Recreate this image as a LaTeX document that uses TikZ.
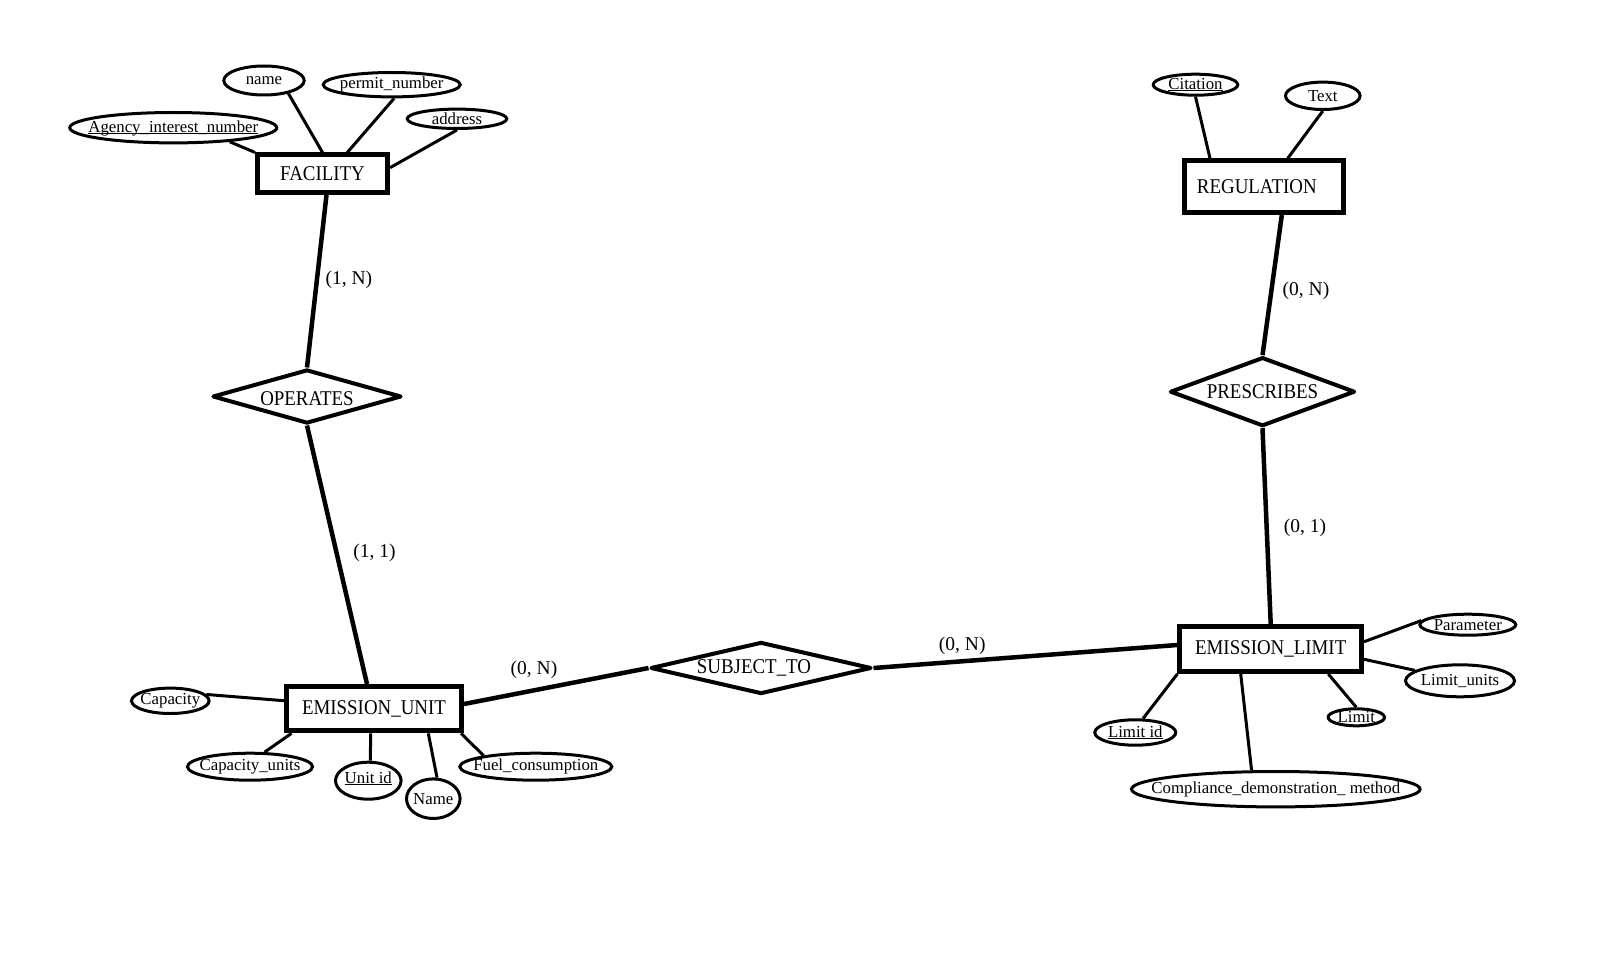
\documentclass[tikz,border=0pt]{standalone}
\usepackage{fontspec}
\setmainfont{Liberation Serif}
\newfontfamily\efontfam[FakeStretch=0.9]{Liberation Serif}
\usetikzlibrary{shapes.geometric}
\newcommand\keyattr[1]{\underline{\smash{#1}\vphantom{A}}}
\begin{document}
\begin{tikzpicture}[x=1pt,y=-1pt,
  entity/.style={draw, rectangle, line width=5pt, inner sep=0pt, font=\efontfam\fontsize{21}{23}\selectfont},
  rel/.style={draw, diamond, line width=4pt, line join=round, inner sep=0pt},
  rfont/.style={font=\efontfam\fontsize{21}{23}\selectfont, inner sep=0pt},
  attr/.style={draw, ellipse, line width=3pt, inner sep=0pt},
  afont/.style={font=\fontsize{16.8}{18}\selectfont, inner sep=0pt},
  conn/.style={line width=4.5pt},
  aline/.style={line width=3pt},
  card/.style={font=\fontsize{19.5}{21}\selectfont, inner sep=0pt}]
\fill[white] (0,0) rectangle (1600,960);
\useasboundingbox (0,0) rectangle (1600,960);

% entities
\node[entity, minimum width=130pt, minimum height=37.5pt] (fac) at (322.5,173.7) {FACILITY};
\node[entity, minimum width=159.3pt, minimum height=51.7pt, label={[rfont,xshift=-7pt]center:REGULATION}] (reg) at (1263.8,186.7) {};
\node[entity, minimum width=175pt, minimum height=44.3pt] (eu) at (374,708.7) {EMISSION\_UNIT};
\node[entity, minimum width=181.7pt, minimum height=45pt] (el) at (1270.7,649) {EMISSION\_LIMIT};

% relationships
\node[rel, minimum width=189pt, minimum height=54pt, label={[rfont,yshift=-2pt]center:OPERATES}] (op) at (307,396.5) {};
\node[rel, minimum width=221pt, minimum height=52pt, label={[rfont,xshift=-7pt]center:SUBJECT\_TO}] (st) at (761,668) {};
\node[rel, minimum width=185pt, minimum height=69pt, label={[rfont]center:PRESCRIBES}] (pr) at (1262.5,391.7) {};

% attributes
\node[attr, minimum width=80.4pt, minimum height=29pt, label={[afont]center:name}] (nm) at (264,80.5) {};
\node[attr, minimum width=137pt, minimum height=24.4pt, label={[afont]center:permit\_number}] (pn) at (391.7,84.7) {};
\node[attr, minimum width=99.6pt, minimum height=19.4pt, label={[afont]center:address}] (ad) at (457,118.8) {};
\node[attr, minimum width=207pt, minimum height=30.4pt, label={[afont]center:\keyattr{Agency\_interest\_number}}] (ain) at (173.3,127.7) {};
\node[attr, minimum width=84.6pt, minimum height=21pt, label={[afont]center:\keyattr{Citation}}] (cit) at (1195.5,84.7) {};
\node[attr, minimum width=74.6pt, minimum height=27.4pt, label={[afont]center:Text}] (txt) at (1322.8,95.8) {};
\node[attr, minimum width=77.6pt, minimum height=25.4pt, label={[afont]center:Capacity}] (cap) at (170.3,700.8) {};
\node[attr, minimum width=125pt, minimum height=27pt, label={[afont]center:Capacity\_units}] (cu) at (250,766.7) {};
\node[attr, minimum width=65.6pt, minimum height=37pt, label={[afont,yshift=2pt]center:\keyattr{Unit id}}] (uid) at (368.3,780.7) {};
\node[attr, minimum width=53.6pt, minimum height=39.6pt, label={[afont]center:Name}] (unm) at (433.3,798.7) {};
\node[attr, minimum width=152pt, minimum height=27pt, label={[afont]center:Fuel\_consumption}] (fc) at (535.8,766.7) {};
\node[attr, minimum width=96pt, minimum height=21pt, label={[afont]center:Parameter}] (par) at (1467.8,624.7) {};
\node[attr, minimum width=109pt, minimum height=32pt, label={[afont]center:Limit\_units}] (lu) at (1460,680.8) {};
\node[attr, minimum width=56.4pt, minimum height=17pt, label={[afont]center:Limit}] (lim) at (1356.3,717.3) {};
\node[attr, minimum width=81pt, minimum height=25.4pt, label={[afont]center:\keyattr{Limit id}}] (lid) at (1135.3,732.5) {};
\node[attr, minimum width=288.6pt, minimum height=35.4pt, label={[afont]center:Compliance\_demonstration\_ method}] (cdm) at (1275.8,789.2) {};

% attribute lines
\draw[aline] (nm.-28) -- (fac.north);
\draw[aline] (pn.-80) -- ([xshift=24.8pt]fac.north);
\draw[aline] (ad.south) -- ([yshift=6pt]fac.east);
\draw[aline] (ain.-14) -- (fac.north west);
\draw[aline] (cit.south) -- ([xshift=-53.8pt]reg.north);
\draw[aline] (txt.south) -- ([xshift=23.9pt]reg.north);
\draw[aline] (cap.10) -- ([yshift=8pt]eu.west);
\draw[aline] (cu.45) -- ([xshift=7.5pt]eu.south west);
\draw[aline] ([xshift=2pt]uid.north) -- ([xshift=-3.3pt]eu.south);
\draw[aline] (unm.80) -- ([xshift=54.3pt]eu.south);
\draw[aline] (fc.168) -- ([xshift=-3pt]eu.south east);
\draw[aline] (par.175) -- ([yshift=7.3pt]el.east);
\draw[aline] (lu.167) -- ([yshift=-10.3pt]el.east);
\draw[aline] (lim.north) -- ([xshift=57.6pt]el.south);
\draw[aline] (lid.61) -- (el.south west);
\draw[aline] (cdm.142) -- ([xshift=-30pt]el.south);

% relationship connectors
\draw[conn] ([xshift=4pt]fac.south) -- (op.north);
\draw[conn] (op.south) -- ([xshift=-7pt]eu.north);
\draw[conn] ([yshift=4.7pt]eu.east) -- (st.west);
\draw[conn] (st.east) -- ([yshift=4pt]el.west);
\draw[conn] ([xshift=18pt]reg.south) -- (pr.north);
\draw[conn] (pr.south) -- (el.north);

% cardinalities
\node[card] (c1) at (348.8,280) {(1, N)};
\node[card] (c2) at (374.5,553) {(1, 1)};
\node[card] (c3) at (534,670) {(0, N)};
\node[card] (c4) at (962.2,646) {(0, N)};
\node[card] (c5) at (1306,290.8) {(0, N)};
\node[card] (c6) at (1305,527.5) {(0, 1)};
\end{tikzpicture}
\end{document}
